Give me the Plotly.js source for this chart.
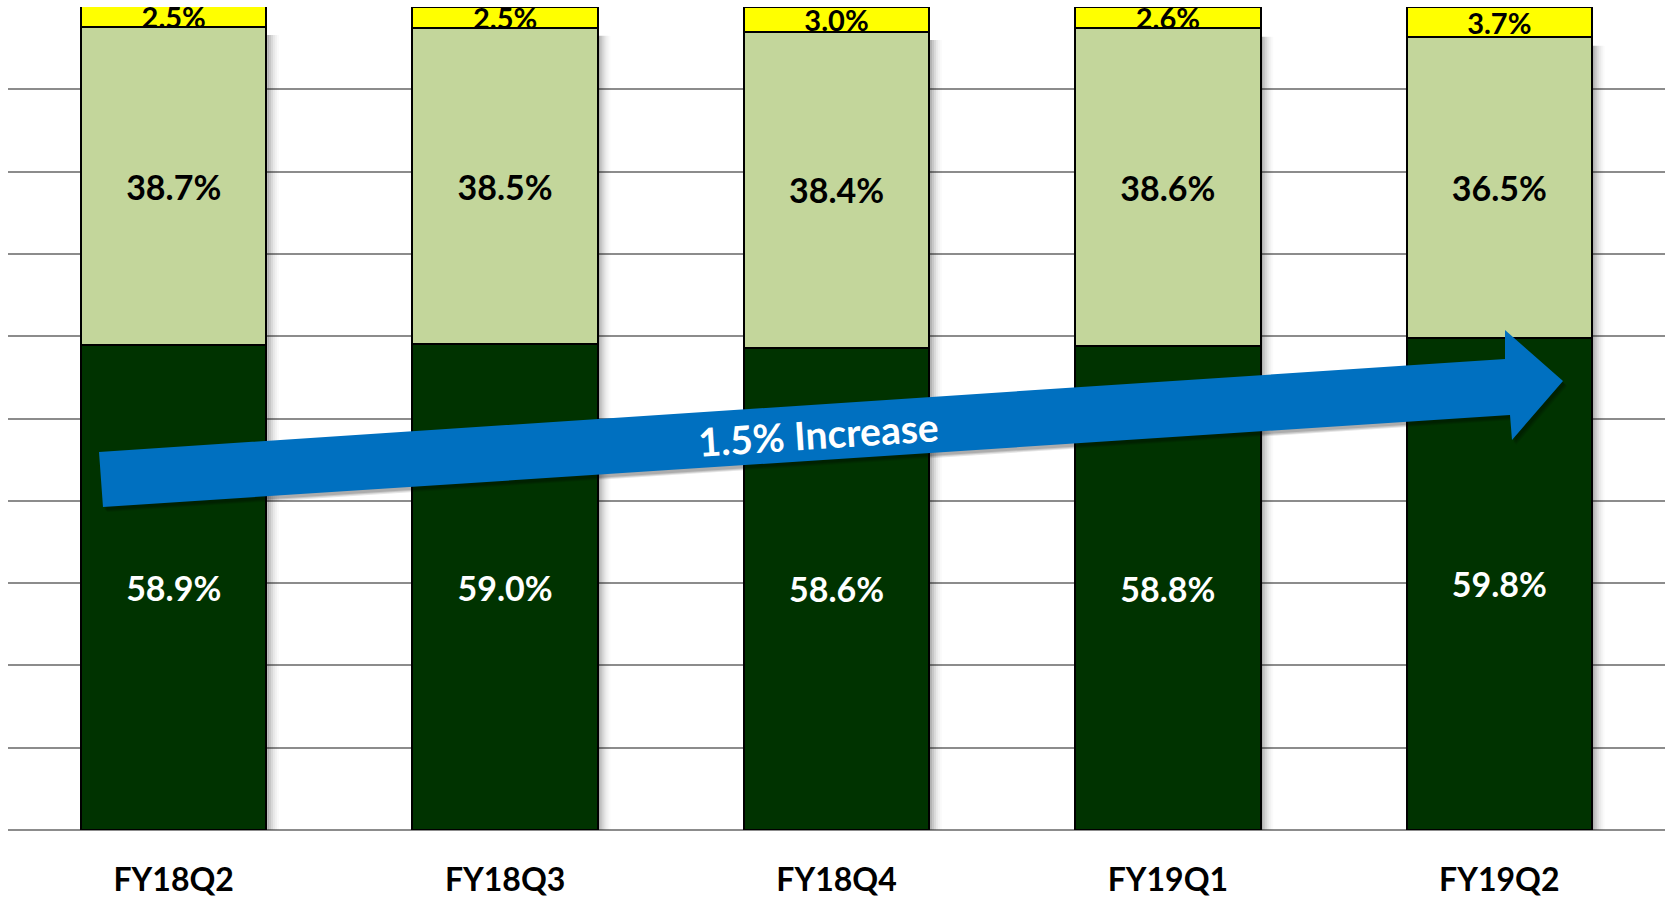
<!DOCTYPE html>
<html>
<head>
<meta charset="utf-8">
<script src="https://cdn.plot.ly/plotly-3.0.1.min.js"></script>
<style>
  html, body { margin: 0; padding: 0; background: #ffffff; }
  #chart { width: 1665px; height: 897px; }
</style>
</head>
<body>
<div id="chart"></div>
<script>
// ---- data ----
const categories = ['FY18Q2', 'FY18Q3', 'FY18Q4', 'FY19Q1', 'FY19Q2'];
const darkValues = [58.9, 59.0, 58.6, 58.8, 59.8];
const lightValues = [38.7, 38.5, 38.4, 38.6, 36.5];
const yellowValues = [2.5, 2.5, 3.0, 2.6, 3.7];
const arrowLabel = '1.5% Increase';

// ---- layout constants (pixels) ----
const W = 1665, H = 897;
const M = { l: 8, r: 0, t: 7, b: 67 };
const plotW = W - M.l - M.r, plotH = H - M.t - M.b;
const px = x => (x - M.l) / plotW;
const py = y => (H - M.b - y) / plotH;

const FONT = 'Lato, "Open Sans", "DejaVu Sans", sans-serif';
const barGap = 0.44;
const halfBar = (1 - barGap) / 2;

function barTrace(vals, color, textColor, size) {
  return {
    type: 'bar',
    x: categories,
    y: vals,
    marker: { color: color, line: { color: '#000000', width: 2 } },
    texttemplate: '%{y:.1f}%',
    textposition: 'inside',
    insidetextanchor: 'middle',
    constraintext: 'none',
    textangle: 0,
    cliponaxis: true,
    textfont: { family: FONT, size: size, color: textColor, weight: 700 },
    hoverinfo: 'skip'
  };
}

const traces = [
  barTrace(darkValues, '#003300', '#ffffff', 34),
  barTrace(lightValues, '#C3D69B', '#000000', 34),
  barTrace(yellowValues, '#FFFF00', '#000000', 29)
];

// soft shadow on the right of each bar
const shapes = [];
const shadowSteps = [0.30, 0.22, 0.15, 0.09, 0.05, 0.02];
const stepW = 2 / (plotW / categories.length);
categories.forEach((c, i) => {
  const top = darkValues[i] + lightValues[i];
  shadowSteps.forEach((op, k) => {
    shapes.push({
      type: 'rect', layer: 'between', xref: 'x', yref: 'y',
      x0: i + halfBar + 0.002 + k * stepW, x1: i + halfBar + 0.002 + (k + 1) * stepW,
      y0: 0, y1: top - 1,
      fillcolor: '#000000', opacity: op, line: { width: 0 }
    });
  });
});

// block arrow (pixel geometry → paper coordinates)
const arrowPts = [[99, 452], [1505, 359], [1505, 330], [1563, 381], [1512, 440], [1510, 415], [103, 507]];
function pathFrom(pts, dx, dy) {
  return pts.map((p, i) => (i ? 'L' : 'M') + px(p[0] + dx).toFixed(5) + ',' + py(p[1] + dy).toFixed(5)).join(' ') + ' Z';
}
[[4, 5, 0.10], [3, 4, 0.12], [2, 3, 0.14]].forEach(s => {
  shapes.push({
    type: 'path', layer: 'above', xref: 'paper', yref: 'paper',
    path: pathFrom(arrowPts, s[0], s[1]),
    fillcolor: '#000000', opacity: s[2], line: { width: 0 }
  });
});
shapes.push({
  type: 'path', layer: 'above', xref: 'paper', yref: 'paper',
  path: pathFrom(arrowPts, 0, 0),
  fillcolor: '#0070C0', line: { width: 0 }
});

const layout = {
  width: W, height: H,
  margin: M,
  paper_bgcolor: '#ffffff', plot_bgcolor: '#ffffff',
  barmode: 'stack',
  bargap: barGap,
  showlegend: false,
  hovermode: false,
  font: { family: FONT },
  xaxis: {
    type: 'category',
    range: [-0.5, categories.length - 0.5],
    showgrid: false, zeroline: false, showline: false,
    ticks: '',
    ticklabelstandoff: 28,
    tickfont: { family: FONT, size: 32, color: '#000000', weight: 700 },
    fixedrange: true
  },
  yaxis: {
    range: [0, 100],
    dtick: 10, tick0: 0,
    showticklabels: false,
    ticks: '',
    showgrid: true, gridcolor: '#8c8c8c', gridwidth: 2,
    zeroline: true, zerolinecolor: '#8c8c8c', zerolinewidth: 2,
    showline: false,
    fixedrange: true
  },
  shapes: shapes,
  annotations: [{
    xref: 'paper', yref: 'paper',
    x: px(818), y: py(434),
    xanchor: 'center', yanchor: 'middle',
    text: arrowLabel,
    showarrow: false,
    textangle: -3.7,
    font: { family: FONT, size: 39, color: '#ffffff', weight: 700 }
  }]
};

Plotly.newPlot('chart', traces, layout, { displayModeBar: false, staticPlot: true });
</script>
</body>
</html>
